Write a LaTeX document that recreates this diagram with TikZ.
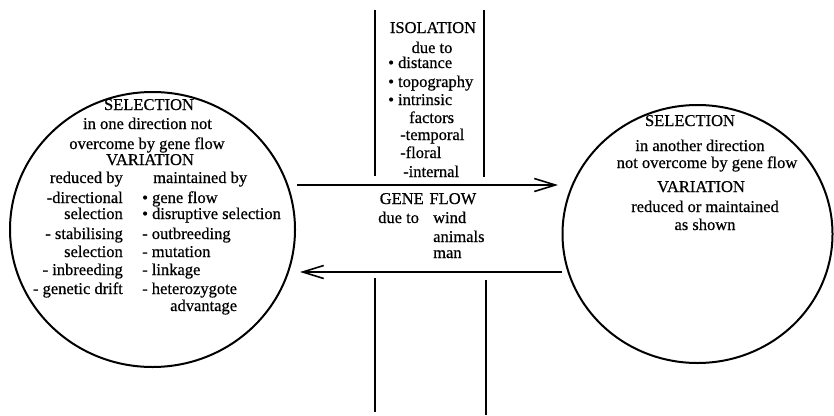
\documentclass[tikz,border=0pt]{standalone}
\usepackage{fontspec}
\setmainfont{Liberation Serif}[FakeBold=0.6]
\usetikzlibrary{shapes.geometric,arrows.meta}
\tikzset{
  txt/.style={font=\fontsize{16.5}{18}\selectfont, inner sep=0pt, text=black},
  lt/.style={txt, anchor=base west},
  rt/.style={txt, anchor=base east},
  ct/.style={txt, anchor=base},
  ring/.style={draw, ellipse, line width=2pt, inner sep=0pt},
  barrier/.style={line width=1.8pt},
  flow/.style={line width=1.8pt, -{Straight Barb[length=21pt,width=13pt,line width=1.6pt]}}
}
\begin{document}
\begin{tikzpicture}[x=1pt,y=-1pt]
\useasboundingbox (0,0) rectangle (834,415);
\fill[white] (0,0) rectangle (834,415);

% circles
\node[ring, minimum width=285pt, minimum height=275pt] (lc) at (152.5,229.5) {};
\node[ring, minimum width=270pt, minimum height=258pt] (rc) at (697.5,234) {};

% isolation barrier lines
\coordinate (bl1) at (375,10);  \coordinate (bl2) at (375,176);
\coordinate (br1) at (484,10);  \coordinate (br2) at (484,177);
\coordinate (bl3) at (375,278); \coordinate (bl4) at (375,412);
\coordinate (br3) at (486,280); \coordinate (br4) at (486,415);
\draw[barrier] (bl1) -- (bl2);
\draw[barrier] (br1) -- (br2);
\draw[barrier] (bl3) -- (bl4);
\draw[barrier] (br3) -- (br4);

% gene flow arrows
\coordinate (f1s) at (297,185); \coordinate (f1e) at (558,185);
\coordinate (f2s) at (562,272); \coordinate (f2e) at (300,272);
\draw[flow] (f1s) -- (f1e);
\draw[flow] (f2s) -- (f2e);

% isolation text
\node[ct] (iso) at (433,33) {ISOLATION};
\node[ct] (iso1) at (432,53) {due to};
\node[lt] (iso2) at (388,68) {• distance};
\node[lt] (iso3) at (388,87) {• topography};
\node[lt] (iso4) at (388,105) {• intrinsic};
\node[lt] (iso5) at (409,123) {factors};
\node[lt] (iso6) at (400,140) {-temporal};
\node[lt] (iso7) at (400,158) {-floral};
\node[lt] (iso8) at (403,177) {-internal};

% gene flow text
\node[ct] (gf) at (428,204) {GENE\hspace{0.35em}FLOW};
\node[lt] (gf1) at (378,223) {due to};
\node[lt] (gf2) at (433,223) {wind};
\node[lt] (gf3) at (433,242) {animals};
\node[lt] (gf4) at (433,258) {man};

% left circle text
\node[ct] (ls) at (149,110) {SELECTION};
\node[ct] (ls1) at (147.5,129) {in one direction not};
\node[ct] (ls2) at (147,149) {overcome by gene flow};
\node[ct] (lv) at (150,165) {VARIATION};
\node[rt] (r0) at (123,183) {reduced by};
\node[lt] (m0) at (153,183) {maintained by};
\node[rt] (r1) at (123,203) {-directional};
\node[lt] (m1) at (142,203) {• gene flow};
\node[rt] (r2) at (123,219) {selection};
\node[lt] (m2) at (142,219) {• disruptive selection};
\node[rt] (r3) at (123,239) {- stabilising};
\node[lt] (m3) at (142,239) {- outbreeding};
\node[rt] (r4) at (123,257) {selection};
\node[lt] (m4) at (142,257) {- mutation};
\node[rt] (r5) at (123,275) {- inbreeding};
\node[lt] (m5) at (142,275) {- linkage};
\node[rt] (r6) at (123,294) {- genetic drift};
\node[lt] (m6) at (142,294) {- heterozygote};
\node[lt] (m7) at (170,311) {advantage};

% right circle text
\node[ct] (rs) at (690,126) {SELECTION};
\node[ct] (rs1) at (700,151) {in another direction};
\node[ct] (rs2) at (707,168) {not overcome by gene flow};
\node[ct] (rv) at (701,192) {VARIATION};
\node[ct] (rv1) at (705,212) {reduced or maintained};
\node[ct] (rv2) at (705,230) {as shown};
\end{tikzpicture}
\end{document}
